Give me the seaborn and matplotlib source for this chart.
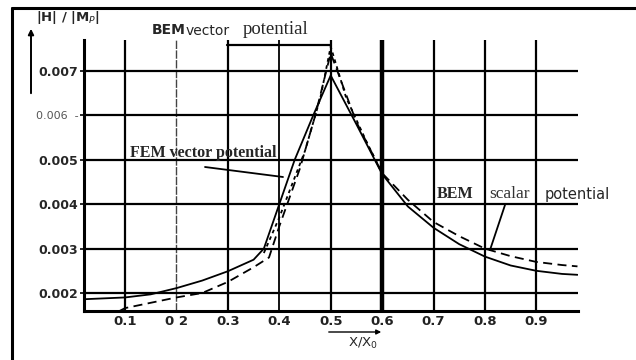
import numpy as np
import pandas as pd
import matplotlib
matplotlib.use("Agg")
import matplotlib.pyplot as plt
import seaborn as sns
from matplotlib.lines import Line2D

# ---- data ----
fem_x = [0.02, 0.10, 0.15, 0.20, 0.25, 0.30, 0.35, 0.37, 0.40, 0.43, 0.466, 0.50,
         0.55, 0.60, 0.65, 0.70, 0.75, 0.80, 0.85, 0.90, 0.95, 0.98]
fem_y = [0.00186, 0.00190, 0.00197, 0.00211, 0.00228, 0.00249, 0.00275, 0.00300,
         0.00400, 0.00500, 0.00600, 0.00690, 0.00580, 0.00468, 0.00395, 0.00347,
         0.00310, 0.00282, 0.00262, 0.00250, 0.00243, 0.00241]

bem_s_x = [0.09, 0.10, 0.15, 0.20, 0.25, 0.30, 0.35, 0.38, 0.40, 0.44, 0.47, 0.50,
           0.55, 0.60, 0.65, 0.70, 0.75, 0.80, 0.85, 0.90, 0.95, 0.98]
bem_s_y = [0.00160, 0.00166, 0.00178, 0.00190, 0.00200, 0.00225, 0.00258, 0.00280,
           0.00350, 0.00480, 0.00600, 0.00740, 0.00585, 0.00470, 0.00410, 0.00360,
           0.00328, 0.00300, 0.00283, 0.00270, 0.00263, 0.00260]

bem_v_x = [0.37, 0.40, 0.45, 0.48, 0.50, 0.53, 0.57, 0.60]
bem_v_y = [0.00290, 0.00370, 0.00520, 0.00640, 0.00755, 0.00640, 0.00540, 0.00470]

x_ticks = [0.1, 0.2, 0.3, 0.4, 0.5, 0.6, 0.7, 0.8, 0.9]
x_tick_labels = ["0.1", "0 2", "0.3", "0.4", "0.5", "0.6", "0.7", "0.8", "0.9"]
y_ticks = [0.002, 0.003, 0.004, 0.005, 0.006, 0.007]
y_tick_labels = ["0.002", "0.003", "0.004", "0.005", "0.006  -", "0.007"]

df = pd.concat([
    pd.DataFrame({"x": fem_x, "y": fem_y, "curve": "FEM vector potential"}),
    pd.DataFrame({"x": bem_s_x, "y": bem_s_y, "curve": "BEM scalar potential"}),
    pd.DataFrame({"x": bem_v_x, "y": bem_v_y, "curve": "BEM vector potential"}),
])

sns.set_theme(style="white")
plt.rcParams["font.family"] = ["DejaVu Sans"]

fig = plt.figure(figsize=(6.36, 3.6), dpi=100)
ax = fig.add_axes([84 / 636, 1 - 311 / 360, (578 - 84) / 636, (311 - 40) / 360])

styles = {"FEM vector potential": "", "BEM scalar potential": (5, 3),
          "BEM vector potential": (2, 2)}
sns.lineplot(data=df, x="x", y="y", hue="curve", style="curve",
             palette={k: "black" for k in styles}, dashes=styles,
             sort=False, estimator=None, legend=False, ax=ax, linewidth=1.3)

ax.set_xlim(0.0202, 0.981)
ax.set_ylim(0.001595, 0.007698)
ax.set_xticks(x_ticks)
ax.set_xticklabels(x_tick_labels, fontsize=9.5, fontweight="bold", color="#222222")
ax.set_yticks(y_ticks)
ax.set_yticklabels(y_tick_labels, fontsize=9, fontweight="bold")
for lab in ax.get_yticklabels():
    if lab.get_text().startswith("0.006"):
        lab.set_fontweight("normal")
        lab.set_color("#555555")
        lab.set_fontsize(8)
ax.tick_params(axis="x", length=0, pad=3)
ax.tick_params(axis="y", length=3, width=1.2, color="black", pad=1, left=True)
ax.set_xlabel("")
ax.set_ylabel("")

ax.grid(True, color="black", linewidth=1.6)
for gl, t in zip(ax.get_xgridlines(), x_ticks):
    if abs(t - 0.6) < 1e-9:
        gl.set_linewidth(3.2)
    elif abs(t - 0.2) < 1e-9:
        gl.set_linestyle((0, (6, 1)))
        gl.set_linewidth(1.0)
        gl.set_color("#444444")
    elif abs(t - 0.4) < 1e-9:
        gl.set_linewidth(1.3)
for s in ["top", "right"]:
    ax.spines[s].set_visible(False)
ax.spines["left"].set_linewidth(2.2)
ax.spines["bottom"].set_linewidth(2.2)
ax.spines["left"].set_color("black")
ax.spines["bottom"].set_color("black")

# outer frame (top and left)
fig.add_artist(Line2D([12 / 636, 1], [1 - 8 / 360, 1 - 8 / 360], color="black", lw=2.2))
fig.add_artist(Line2D([12 / 636, 12 / 636], [0, 1 - 8 / 360], color="black", lw=2.2))

# y-axis title with arrow
fig.text(36 / 636, 1 - 17 / 360, "|H| / |M$_P$|", fontsize=9.5, fontweight="bold",
         va="center", ha="left")
ax.annotate("", xy=(31 / 636, 1 - 26 / 360), xytext=(31 / 636, 1 - 96 / 360),
            xycoords="figure fraction", textcoords="figure fraction",
            arrowprops=dict(arrowstyle="-|>", color="black", lw=1.4, mutation_scale=8))

# x-axis title with arrow
fig.text(348 / 636, 1 - 343 / 360, "X/X$_0$", fontsize=9.5, va="center", ha="left")
ax.annotate("", xy=(384 / 636, 1 - 332 / 360), xytext=(326 / 636, 1 - 332 / 360),
            xycoords="figure fraction", textcoords="figure fraction",
            arrowprops=dict(arrowstyle="-|>", color="black", lw=1.0, mutation_scale=7))

# curve labels
fig.text(152 / 636, 1 - 30 / 360, "BEM", fontsize=10, fontweight="bold", va="center")
fig.text(186 / 636, 1 - 31 / 360, "vector", fontsize=10, va="center")
fig.text(243 / 636, 1 - 30 / 360, "potential", fontsize=13.5,
         family="Liberation Serif", va="center")
fig.add_artist(Line2D([227 / 636, 330 / 636], [1 - 45 / 360, 1 - 45 / 360],
                      color="black", lw=1.6))

fig.text(130 / 636, 1 - 153 / 360, "FEM vector potential", fontsize=11.5,
         family="Liberation Serif", fontweight="bold", va="center")
fig.add_artist(Line2D([205 / 636, 283 / 636], [1 - 167 / 360, 1 - 177 / 360],
                      color="black", lw=1.3))

fig.text(437 / 636, 1 - 194 / 360, "BEM", fontsize=11.5, fontweight="bold",
         family="Liberation Serif", va="center")
fig.text(489 / 636, 1 - 194 / 360, "scalar", fontsize=12.5, family="Liberation Serif",
         color="#333333", va="center")
fig.text(545 / 636, 1 - 194 / 360, "potential", fontsize=10.5, va="center")
fig.add_artist(Line2D([505 / 636, 490 / 636], [1 - 205 / 360, 1 - 250 / 360],
                      color="black", lw=1.3))

fig.savefig("out.png", dpi=100, facecolor="white")
